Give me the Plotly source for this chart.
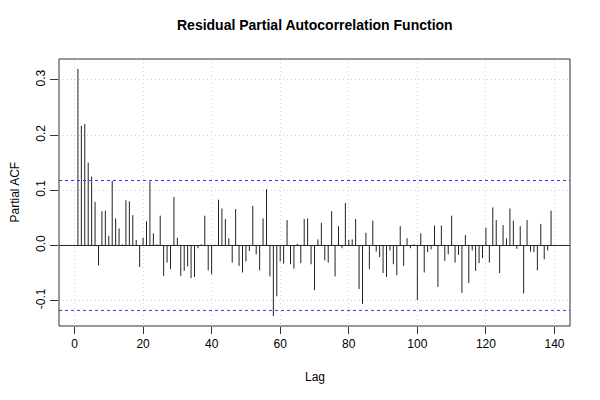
import plotly.graph_objects as go

lags = list(range(1, 140))
pacf = [
    0.320, 0.217, 0.220, 0.150, 0.125, 0.079, -0.036, 0.062, 0.063, 0.0175,
    0.117, 0.049, 0.031, 0.002, 0.082, 0.080, 0.055, 0.010, -0.039, 0.014,
    0.044, 0.116, 0.022, 0.002, 0.054, -0.055, -0.031, -0.043, 0.088, 0.014,
    -0.055, -0.046, -0.038, -0.059, -0.057, -0.005, 0.002, 0.054, -0.045, -0.052,
    0.001, 0.083, 0.067, 0.048, 0.013, -0.031, 0.066, -0.037, -0.049, -0.029,
    -0.010, 0.072, -0.016, -0.045, 0.049, 0.102, -0.056, -0.128, -0.092, -0.029,
    -0.033, 0.046, -0.034, -0.042, 0.003, -0.032, 0.048, 0.049, -0.034, -0.081,
    0.011, 0.041, -0.027, -0.031, 0.062, -0.056, 0.035, -0.005, 0.077, 0.010,
    0.011, 0.048, -0.079, -0.106, 0.023, -0.043, 0.045, -0.011, -0.021, -0.050,
    -0.057, -0.009, -0.034, -0.054, 0.035, -0.037, 0.013, -0.005, 0.002, -0.099,
    0.022, -0.049, -0.012, -0.007, 0.036, -0.075, 0.036, -0.028, -0.016, 0.054,
    -0.031, -0.017, -0.086, 0.019, -0.068, -0.009, -0.046, -0.032, -0.023, 0.032,
    -0.031, 0.069, 0.046, -0.050, 0.037, 0.013, 0.067, 0.045, -0.006, 0.035,
    -0.087, 0.046, -0.011, -0.012, -0.045, 0.039, -0.025, -0.009, 0.063,
]
conf_limit = 0.1177
x_ticks = [0, 20, 40, 60, 80, 100, 120, 140]
y_ticks = [-0.1, 0.0, 0.1, 0.2, 0.3]

xs, ys = [], []
for l, v in zip(lags, pacf):
    xs += [l, l, None]
    ys += [0, v, None]

font = "Liberation Sans, Arial, Helvetica, sans-serif"
fig = go.Figure()
fig.add_trace(go.Scatter(x=xs, y=ys, mode="lines",
                         line=dict(color="#222222", width=1), hoverinfo="skip",
                         showlegend=False))

x_lo, x_hi = -4.52, 144.52
y_lo, y_hi = -0.1459, 0.3379

# zero line and confidence limits
fig.add_shape(type="line", xref="x", yref="y", x0=x_lo, x1=x_hi, y0=0, y1=0,
              line=dict(color="#222222", width=1))
for c in (conf_limit, -conf_limit):
    fig.add_shape(type="line", xref="x", yref="y", x0=x_lo, x1=x_hi, y0=c, y1=c,
                  line=dict(color="#3333ff", width=1, dash="3px,3px"))

# box
fig.add_shape(type="rect", xref="paper", yref="paper", x0=0, x1=1, y0=0, y1=1,
              line=dict(color="#333333", width=1), layer="above")

# page body has an 8px margin, so the margins compensate for it
fig.update_layout(
    width=600, height=400,
    margin=dict(l=51, r=38, t=51, b=82),
    paper_bgcolor="white", plot_bgcolor="white",
    font=dict(family=font, size=12, color="black"),
    showlegend=False,
    xaxis=dict(range=[x_lo, x_hi], tickvals=x_ticks, ticks="outside", ticklen=7,
               tickcolor="#333333", showgrid=True, gridcolor="#d4d4d4", griddash="1px,3px",
               gridwidth=1, zeroline=False, showline=False, automargin=False,
               tickfont=dict(size=12, family=font)),
    yaxis=dict(range=[y_lo, y_hi], tickvals=y_ticks, ticktext=["-0.1", "0.0", "0.1", "0.2", "0.3"],
               ticks="outside", ticklen=8, tickcolor="#333333", tickangle=-90,
               showgrid=True, gridcolor="#d4d4d4", griddash="1px,3px", gridwidth=1,
               zeroline=False, showline=False, automargin=False,
               tickfont=dict(size=12, family=font)),
    annotations=[
        dict(text="<b>Residual Partial Autocorrelation Function</b>", xref="paper", yref="paper",
             x=0.5, y=1, yshift=34, xanchor="center", yanchor="middle", showarrow=False,
             font=dict(size=14, family=font)),
        dict(text="Lag", xref="paper", yref="paper", x=0.5, y=0, yshift=-51,
             xanchor="center", yanchor="middle", showarrow=False, font=dict(size=12, family=font)),
        dict(text="Partial ACF", xref="paper", yref="paper", x=0, xshift=-45, y=0.5,
             xanchor="center", yanchor="middle", textangle=-90, showarrow=False,
             font=dict(size=12, family=font)),
    ],
)
fig.write_html("out.html")
